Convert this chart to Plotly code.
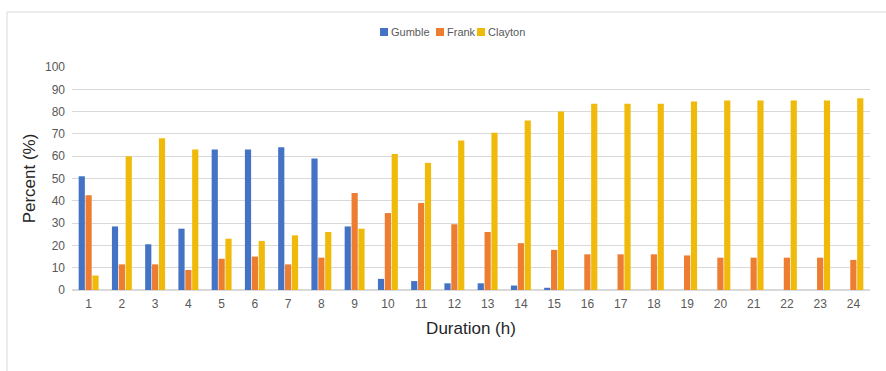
import plotly.graph_objects as go

durations = [str(i) for i in range(1, 25)]
gumble = [51, 28.5, 20.5, 27.5, 63, 63, 64, 59, 28.5, 5, 4, 3, 3, 2, 1, 0, 0, 0, 0, 0, 0, 0, 0, 0]
frank = [42.5, 11.5, 11.5, 9, 14, 15, 11.5, 14.5, 43.5, 34.5, 39, 29.5, 26, 21, 18,
         16, 16, 16, 15.5, 14.5, 14.5, 14.5, 14.5, 13.5]
clayton = [6.5, 60, 68, 63, 23, 22, 24.5, 26, 27.5, 61, 57, 67, 70.5, 76, 80,
           83.5, 83.5, 83.5, 84.5, 85, 85, 85, 85, 86]
y_ticks = list(range(0, 101, 10))
series_names = ["Gumble", "Frank", "Clayton"]
series_colors = ["#4472C4", "#ED7D31", "#F0BA0A"]

FONT = "Liberation Sans Narrow, Arial Narrow, Liberation Sans, sans-serif"

W, H = 886, 371
L, R, T, B = 72, 16, 67, 81
pw, ph = W - L - R, H - T - B

def px(x):
    return (x - L) / pw

def py(y):
    return (H - B - y) / ph

fig = go.Figure()
for name, vals, col in zip(series_names, [gumble, frank, clayton], series_colors):
    fig.add_trace(go.Bar(x=durations, y=vals, name=name, marker_color=col,
                         marker_line_width=0, showlegend=False))

# custom compact legend (Excel style)
legend_marker_x = [380, 436, 477]
shapes = [dict(type="rect", xref="paper", yref="paper",
               x0=px(7), x1=px(900), y0=py(400), y1=py(12),
               line=dict(color="#D9D9D9", width=1), fillcolor="rgba(0,0,0,0)", layer="below")]
annotations = []
for name, col, mx in zip(series_names, series_colors, legend_marker_x):
    shapes.append(dict(type="rect", xref="paper", yref="paper",
                       x0=px(mx), x1=px(mx + 8), y0=py(36), y1=py(28),
                       fillcolor=col, line=dict(width=0)))
    annotations.append(dict(text=name, xref="paper", yref="paper", x=px(mx + 9), y=py(32),
                            xanchor="left", yanchor="middle", showarrow=False,
                            font=dict(size=11, color="#595959", family=FONT)))

fig.update_layout(
    width=W, height=H,
    margin=dict(l=L, r=R, t=T, b=B),
    paper_bgcolor="white", plot_bgcolor="white",
    barmode="group", bargap=0.38, bargroupgap=0.1,
    font=dict(family=FONT, color="#595959", size=12),
    showlegend=False,
    xaxis=dict(title=dict(text="Duration (h)", font=dict(size=17, color="#262626"), standoff=12),
               showgrid=False, showline=False, ticks="", ticklabelstandoff=5,
               tickfont=dict(size=12, color="#595959")),
    yaxis=dict(title=dict(text="Percent (%)", font=dict(size=17, color="#262626"), standoff=5),
               range=[0, 100], tickvals=y_ticks, showgrid=True, gridcolor="#D9D9D9",
               gridwidth=1, zeroline=True, zerolinecolor="#D9D9D9", showline=False,
               ticks="", ticklabelstandoff=6, tickfont=dict(size=12, color="#595959")),
    shapes=shapes,
    annotations=annotations,
)

fig.write_html("out.html", post_script="document.body.style.margin='0';",
               config={"displayModeBar": False})
